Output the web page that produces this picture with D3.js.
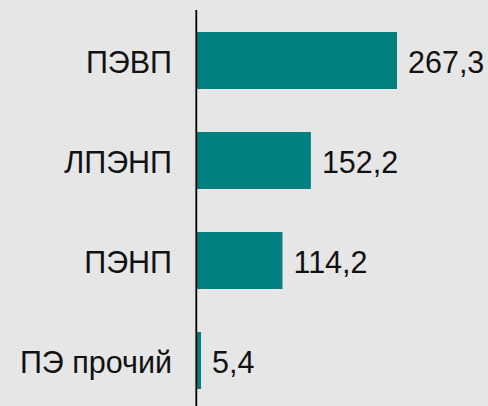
<!DOCTYPE html>
<html><head><meta charset="utf-8">
<script src="https://cdn.jsdelivr.net/npm/d3@7"></script>
<style>html,body{margin:0;padding:0;background:#e6e6e6;}svg{display:block;}</style>
</head><body>
<script>
const categories = ["ПЭВП", "ЛПЭНП", "ПЭНП", "ПЭ прочий"];
const values = [267.3, 152.2, 114.2, 5.4];
const valueLabels = ["267,3", "152,2", "114,2", "5,4"];

const W = 488, H = 406;
const svg = d3.select("body").append("svg").attr("width", W).attr("height", H);
svg.append("rect").attr("width", W).attr("height", H).attr("fill", "#e6e6e6");

const x = d3.scaleLinear().domain([0, 267.3]).range([197, 397]);
const y = d3.scaleBand().domain(categories).range([10.5, 410.5]).paddingInner(0.43).paddingOuter(0.215);

const fs = 30.5;
svg.selectAll("rect.bar").data(categories).join("rect").attr("class", "bar")
  .attr("x", x(0)).attr("y", d => y(d))
  .attr("width", (d, i) => x(values[i]) - x(0))
  .attr("height", y.bandwidth()).attr("fill", "#008080");

svg.append("line").attr("x1", 196.3).attr("x2", 196.3).attr("y1", 10).attr("y2", H)
  .attr("stroke", "#000").attr("stroke-width", 1.8);

svg.selectAll("text.cat").data(categories).join("text").attr("class", "cat")
  .attr("x", 172).attr("y", d => y(d) + y.bandwidth() / 2).attr("dy", "0.4em")
  .attr("text-anchor", "end").attr("font-family", "Liberation Sans, Arial, sans-serif")
  .attr("font-size", fs).attr("fill", "#111").text(d => d);

svg.selectAll("text.val").data(categories).join("text").attr("class", "val")
  .attr("x", (d, i) => x(values[i]) + 11).attr("y", d => y(d) + y.bandwidth() / 2).attr("dy", "0.4em")
  .attr("font-family", "Liberation Sans, Arial, sans-serif")
  .attr("font-size", fs).attr("fill", "#111").text((d, i) => valueLabels[i]);
</script>
</body></html>
